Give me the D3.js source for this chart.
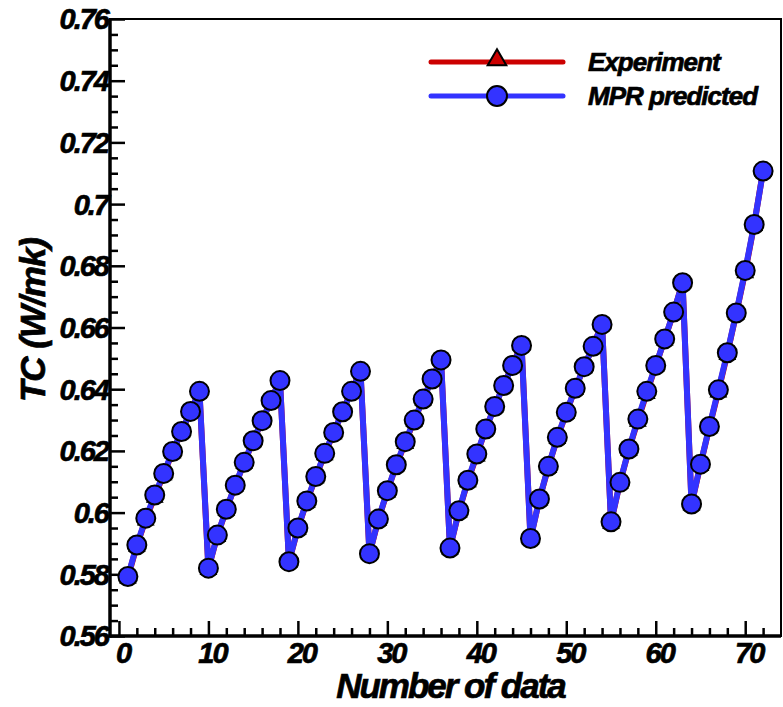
<!DOCTYPE html>
<html>
<head>
<meta charset="utf-8">
<script src="https://cdn.jsdelivr.net/npm/d3@7"></script>
<style>
  body { margin: 0; background: #fff; }
  svg text { font-family: "Liberation Sans", Arial, sans-serif; font-weight: bold; font-style: italic;
             stroke: #000; stroke-width: 0.7px; }
</style>
</head>
<body>
<div id="chart"></div>
<script>
// DATA
// sample number runs 1..72
var sampleNo = [1,2,3,4,5,6,7,8,9,10,11,12,13,14,15,16,17,18,19,20,21,22,23,24,
    25,26,27,28,29,30,31,32,33,34,35,36,37,38,39,40,41,42,43,44,45,46,47,48,
    49,50,51,52,53,54,55,56,57,58,59,60,61,62,63,64,65,66,67,68,69,70,71,72];

// MPR predicted thermal conductivity
var predicted = [0.5793,0.5895,0.5982,0.6057,0.6127,0.6198,0.6263,0.6328,0.6393,
    0.5820,0.5927,0.6011,0.6089,0.6163,0.6233,0.6298,0.6363,0.6428,
    0.5841,0.5950,0.6038,0.6117,0.6192,0.6260,0.6327,0.6393,0.6458,
    0.5867,0.5979,0.6071,0.6155,0.6230,0.6300,0.6368,0.6433,0.6495,
    0.5885,0.6006,0.6105,0.6190,0.6271,0.6344,0.6412,0.6477,0.6542,
    0.5916,0.6044,0.6150,0.6244,0.6325,0.6403,0.6473,0.6539,0.6610,
    0.5970,0.6098,0.6206,0.6303,0.6393,0.6477,0.6563,0.6650,0.6745,
    0.6028,0.6157,0.6279,0.6398,0.6518,0.6647,0.6785,0.6934,0.7107];

// experiment (mostly hidden under the predicted markers)
var experiment = [0.5790,0.5893,0.5978,0.6052,0.6125,0.6196,0.6262,0.6327,0.6394,
    0.5818,0.5925,0.6010,0.6088,0.6162,0.6232,0.6297,0.6364,0.6430,
    0.5840,0.5948,0.6036,0.6115,0.6190,0.6258,0.6329,0.6394,0.6460,
    0.5866,0.5977,0.6069,0.6154,0.6226,0.6299,0.6367,0.6434,0.6497,
    0.5884,0.6004,0.6102,0.6186,0.6272,0.6343,0.6413,0.6478,0.6546,
    0.5915,0.6043,0.6148,0.6242,0.6324,0.6402,0.6472,0.6540,0.6612,
    0.5968,0.6097,0.6204,0.6298,0.6388,0.6476,0.6562,0.6649,0.6746,
    0.6027,0.6155,0.6277,0.6393,0.6515,0.6646,0.6780,0.6933,0.7108];

var xTicks = [0,10,20,30,40,50,60,70];
var yTicks = [0.56,0.58,0.6,0.62,0.64,0.66,0.68,0.7,0.72,0.74,0.76];
var yTickLabels = ["0.56","0.58","0.6","0.62","0.64","0.66","0.68","0.7","0.72","0.74","0.76"];
var seriesNames = ["Experiment", "MPR predicted"];

// SIZE
var w = 783;
var h = 707;
// plot box edges
var boxL = 110, boxR = 781, boxT = 19, boxB = 636;

var svg = d3
    .select("#chart")
    .append("svg")
    .attr("width", w)
    .attr("height", h);

var x = d3
    .scaleLinear()
    .domain([-1, 74])
    .range([boxL, boxR]);

var y = d3
    .scaleLinear()
    .domain([0.56, 0.76])
    .range([boxB, boxT]);

// minor ticks
var xMinor = d3.range(0, 74, 2).filter(d => d % 10 !== 0);
var yMinor = d3.range(113, 152).map(d => d / 200).filter(d => Math.round(d * 200) % 4 !== 0);

// frame
svg.append("rect")
    .attr("x", boxL)
    .attr("y", boxT)
    .attr("width", boxR - boxL)
    .attr("height", boxB - boxT)
    .attr("fill", "none")
    .attr("stroke", "#000")
    .attr("stroke-width", 2);

// axes, ticks pointing inward
function tickAxis(axis, tx, ty) {
    svg.append("g")
        .attr("transform", "translate(" + tx + "," + ty + ")")
        .call(axis)
        .call(g => g.select(".domain").remove())
        .selectAll("line")
        .attr("stroke-width", 2.5);
}
tickAxis(d3.axisTop(x).tickValues(xTicks).tickSize(15).tickFormat(""), 0, boxB);
tickAxis(d3.axisTop(x).tickValues(xMinor).tickSize(8).tickFormat(""), 0, boxB);
tickAxis(d3.axisRight(y).tickValues(yTicks).tickSize(15).tickFormat(""), boxL, 0);
tickAxis(d3.axisRight(y).tickValues(yMinor).tickSize(8).tickFormat(""), boxL, 0);

// thick left & bottom axis lines
svg.append("line")
    .attr("x1", boxL).attr("x2", boxL)
    .attr("y1", boxT).attr("y2", boxB + 1.5)
    .attr("stroke", "#000").attr("stroke-width", 3.5);
svg.append("line")
    .attr("x1", boxL - 1.5).attr("x2", boxR)
    .attr("y1", boxB).attr("y2", boxB)
    .attr("stroke", "#000").attr("stroke-width", 3.5);

// tick labels
svg.selectAll(".ylab")
    .data(yTicks)
    .enter()
    .append("text")
    .attr("class", "ylab")
    .attr("x", boxL - 2)
    .attr("y", d => y(d))
    .attr("dy", "0.36em")
    .attr("text-anchor", "end")
    .attr("font-size", 29)
    .attr("letter-spacing", -2)
    .text((d, i) => yTickLabels[i]);

svg.selectAll(".xlab")
    .data(xTicks)
    .enter()
    .append("text")
    .attr("class", "xlab")
    .attr("x", d => x(d) + 4)
    .attr("y", boxB + 27)
    .attr("text-anchor", "middle")
    .attr("font-size", 29)
    .attr("letter-spacing", -2)
    .text(d => d);

// axis titles
svg.append("text")
    .attr("x", (boxL + boxR) / 2 + 5)
    .attr("y", 698)
    .attr("text-anchor", "middle")
    .attr("font-size", 35)
    .attr("letter-spacing", -2)
    .text("Number of data");

svg.append("text")
    .attr("transform", "translate(45,320)rotate(-90)")
    .attr("text-anchor", "middle")
    .attr("font-size", 35)
    .attr("letter-spacing", -1)
    .text("TC (W/mk)");

// series
var red = "#cc0000", blue = "#3333ff";
var line = d3.line()
    .x((d, i) => x(sampleNo[i]))
    .y(d => y(d));
var tri = d3.symbol().type(d3.symbolTriangle).size(90);

var g = svg.append("g");

g.append("path")
    .datum(experiment)
    .attr("d", line)
    .attr("fill", "none")
    .attr("stroke", red)
    .attr("stroke-width", 6);

g.selectAll(".tri")
    .data(experiment)
    .enter()
    .append("path")
    .attr("class", "tri")
    .attr("d", tri)
    .attr("transform", (d, i) => "translate(" + x(sampleNo[i]) + "," + (y(d) + 1) + ")")
    .attr("fill", red)
    .attr("stroke", "#000")
    .attr("stroke-width", 2);

g.append("path")
    .datum(predicted)
    .attr("d", line)
    .attr("fill", "none")
    .attr("stroke", blue)
    .attr("stroke-width", 6);

g.selectAll(".dot")
    .data(predicted)
    .enter()
    .append("circle")
    .attr("class", "dot")
    .attr("cx", (d, i) => x(sampleNo[i]))
    .attr("cy", d => y(d))
    .attr("r", 9.5)
    .attr("fill", blue)
    .attr("stroke", "#000")
    .attr("stroke-width", 2);

// legend
var legend = svg.append("g");
var legY = [62, 96];
var legColors = [red, blue];
legend.selectAll(".lline")
    .data(seriesNames)
    .enter()
    .append("line")
    .attr("x1", 431).attr("x2", 563)
    .attr("y1", (d, i) => legY[i]).attr("y2", (d, i) => legY[i])
    .attr("stroke", (d, i) => legColors[i])
    .attr("stroke-width", 5)
    .attr("stroke-linecap", "round");
legend.append("path")
    .attr("d", d3.symbol().type(d3.symbolTriangle).size(150))
    .attr("transform", "translate(497," + (legY[0] - 2) + ")")
    .attr("fill", red)
    .attr("stroke", "#000")
    .attr("stroke-width", 2);
legend.append("circle")
    .attr("cx", 497).attr("cy", legY[1])
    .attr("r", 10)
    .attr("fill", blue)
    .attr("stroke", "#000")
    .attr("stroke-width", 2);
legend.selectAll(".ltext")
    .data(seriesNames)
    .enter()
    .append("text")
    .attr("x", 588)
    .attr("y", (d, i) => legY[i] + 9)
    .attr("font-size", 26)
    .attr("letter-spacing", -1)
    .text(d => d);
</script>
</body>
</html>
